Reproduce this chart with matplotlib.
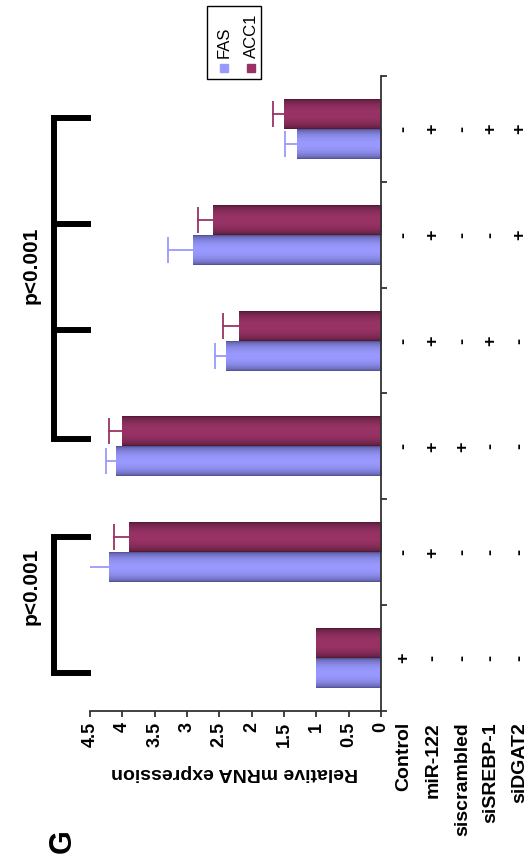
import matplotlib
matplotlib.use('Agg')
import matplotlib.pyplot as plt
import numpy as np
from matplotlib import transforms
from matplotlib.colors import to_rgb
from matplotlib.patches import Rectangle

plt.rcParams['font.family'] = ['Liberation Sans', 'DejaVu Sans']

# data (groups from Control upwards)
conditions = ['Control', 'miR-122', 'siscrambled', 'siSREBP-1', 'siDGAT2']
treatment = [
    ['+', '-', '-', '-', '-', '-'],
    ['-', '+', '+', '+', '+', '+'],
    ['-', '-', '+', '-', '-', '-'],
    ['-', '-', '-', '+', '-', '+'],
    ['-', '-', '-', '-', '+', '+'],
]
fas = [1.0, 4.2, 4.1, 2.4, 2.9, 1.3]
acc1 = [1.0, 3.9, 4.0, 2.2, 2.6, 1.5]
fas_err = [0, 0.32, 0.15, 0.17, 0.39, 0.19]
acc1_err = [0, 0.23, 0.2, 0.24, 0.23, 0.17]
value_ticks = [0, 0.5, 1, 1.5, 2, 2.5, 3, 3.5, 4, 4.5]
value_labels = ['0', '0.5', '1', '1.5', '2', '2.5', '3', '3.5', '4', '4.5']

W, H = 532, 864
fig = plt.figure(figsize=(W / 100, H / 100), dpi=100)


def fx(px):
    return px / W


def fy(py):
    return 1 - py / H


ax = fig.add_axes([fx(90), fy(711), fx(381) - fx(90), fy(76) - fy(711)])

groups = np.arange(len(fas))
bw = 0.283
fas_bars = ax.barh(groups - bw / 2, fas, height=bw, color='#9999ff', zorder=2)
acc_bars = ax.barh(groups + bw / 2, acc1, height=bw, color='#993366', zorder=2)


def shade(bars, dark, light):
    # excel-like cylinder shading across the bar thickness
    t = np.linspace(0, 1, 64)
    f = np.sin(np.pi * t) ** 0.5
    d, l = np.array(to_rgb(dark)), np.array(to_rgb(light))
    img = (d[None, :] * (1 - f[:, None]) + l[None, :] * f[:, None])[:, None, :]
    for b in bars:
        x0, y0, w, h = b.get_x(), b.get_y(), b.get_width(), b.get_height()
        im = ax.imshow(img, extent=(x0, x0 + w, y0, y0 + h), origin='lower',
                       aspect='auto', interpolation='bilinear', zorder=2.5)
        im.set_clip_path(b)


shade(fas_bars, '#4a4a88', '#9999ff')
shade(acc_bars, '#4a1830', '#993366')

# one-sided error bars
for bars, vals, errs, c in [(fas_bars, fas, fas_err, '#9999ff'),
                            (acc_bars, acc1, acc1_err, '#993366')]:
    for b, v, e in zip(bars, vals, errs):
        if e <= 0:
            continue
        y = b.get_y() + b.get_height() / 2
        ax.plot([v, v + e], [y, y], color=c, lw=1.3, zorder=3)
        ax.plot([v + e], [y], marker='|', ms=19, mew=1.3, color=c, zorder=3)

ax.set_xlim(4.5, 0)
ax.set_ylim(-0.5, len(fas) - 0.5)

for s in ['top', 'left']:
    ax.spines[s].set_visible(False)
for s in ['right', 'bottom']:
    ax.spines[s].set_color('#333333')
    ax.spines[s].set_linewidth(1.3)

ax.yaxis.tick_right()
ax.set_yticks(np.arange(-0.5, len(fas), 1))
ax.set_yticklabels([])
ax.tick_params(axis='y', direction='out', length=4, width=1.3, color='#333333')
ax.set_xticks(value_ticks)
ax.set_xticklabels(value_labels, rotation=90, fontsize=13, fontweight='bold')
ax.tick_params(axis='x', direction='out', length=4, width=1.3, color='#333333', pad=4)

fig.text(fx(235), fy(772), 'Relative mRNA expression', rotation=180,
         ha='center', va='center', fontsize=14, fontweight='bold')

# treatment table
trans = transforms.blended_transform_factory(fig.transFigure, ax.transData)
row_x = [404, 433, 463, 491, 520]
for r, name in enumerate(conditions):
    fig.text(fx(row_x[r]), fy(722), name, rotation=90, ha='center', va='top',
             fontsize=14, fontweight='bold')
    for g, s in enumerate(treatment[r]):
        fig.text(fx(row_x[r]), g, s, transform=trans, rotation=90,
                 ha='center', va='center', fontsize=13, fontweight='bold')

# significance brackets
xv, xa = fx(54), fx(91)
blw = 4.3
big = [5.1, 4.1, 3.1, 2.07]
fig.add_artist(plt.Line2D([xa, xv, xv, xa], [big[0], big[0], big[-1], big[-1]],
                          transform=trans, color='black', lw=blw,
                          solid_joinstyle='miter', solid_capstyle='butt'))
for y in big[1:-1]:
    fig.add_artist(plt.Line2D([xv, xa], [y, y], transform=trans, color='black',
                              lw=blw, solid_capstyle='butt'))
small = [1.14, -0.14]
fig.add_artist(plt.Line2D([xa, xv, xv, xa], [small[0], small[0], small[1], small[1]],
                          transform=trans, color='black', lw=blw,
                          solid_joinstyle='miter', solid_capstyle='butt'))
fig.text(fx(31), fy(265), 'p<0.001', rotation=90, ha='center', va='center',
         fontsize=15, fontweight='bold')
fig.text(fx(31), fy(586), 'p<0.001', rotation=90, ha='center', va='center',
         fontsize=15, fontweight='bold')

# legend
fig.add_artist(Rectangle((fx(207), fy(79)), fx(261) - fx(207), fy(6) - fy(79),
                         transform=fig.transFigure, fill=False, ec='black', lw=1))
for cx, c, lab in [(224, '#9999ff', 'FAS'), (251, '#993366', 'ACC1')]:
    fig.add_artist(Rectangle((fx(cx - 4), fy(72)), fx(8), 8 / H,
                             transform=fig.transFigure, color=c))
    fig.text(fx(cx), fy(58), lab, rotation=90, ha='center', va='bottom', fontsize=12)

fig.text(fx(63), fy(841), 'G', rotation=90, ha='center', va='center',
         fontsize=22, fontweight='bold')

fig.savefig('out.png', dpi=100)
